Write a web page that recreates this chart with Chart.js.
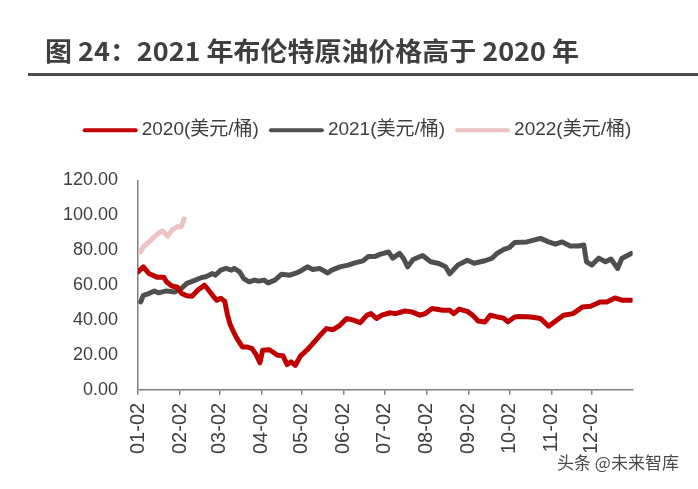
<!DOCTYPE html>
<html><head><meta charset="utf-8">
<script src="https://cdn.jsdelivr.net/npm/chart.js@4/dist/chart.umd.min.js"></script>
<style>
html,body{margin:0;padding:0;background:#fff;}
#wrap{position:relative;width:698px;height:489px;overflow:hidden;background:#fff;}
canvas{position:absolute;left:0;top:0;}
#title{position:absolute;left:45px;top:37px;font:bold 26px/26px 'Noto Sans CJK SC',sans-serif;color:#3f3f3f;white-space:nowrap;transform-origin:0 0;}
#rule{position:absolute;left:28px;top:73px;width:670px;height:3px;background:#4d4d4d;}
#mark{position:absolute;left:557px;top:452px;font:17px/20px 'Noto Sans CJK SC',sans-serif;color:#4a4a4a;white-space:nowrap;}
</style></head><body>
<div id="wrap">
<canvas id="c" width="698" height="489"></canvas>
<div id="title">图 24：2021 年布伦特原油价格高于 2020 年</div>
<div id="rule"></div>
<div id="mark">头条 @未来智库</div>
</div>
<script>
// x-axis tick labels (month markers)
const monthTicks = ["01-02","02-02","03-02","04-02","05-02","06-02","07-02","08-02","09-02","10-02","11-02","12-02"];

// 2020 series
const dates2020 = ["01-02","01-06","01-10","01-16","01-21","01-23","01-27","01-31","02-03","02-07","02-11","02-15","02-20","02-22","02-26","02-29","03-03","03-06","03-08","03-10","03-13","03-15","03-19","03-22","03-26","03-29","04-01","04-03","04-08","04-14","04-18","04-21","04-24","04-27","05-01","05-06","05-10","05-15","05-20","05-25","05-30","06-04","06-09","06-14","06-19","06-22","06-26","06-30","07-06","07-10","07-17","07-22","07-28","08-01","08-06","08-14","08-19","08-22","08-26","09-01","09-05","09-09","09-14","09-18","09-23","09-28","10-01","10-06","10-10","10-18","10-25","10-31","11-06","11-11","11-18","11-25","12-01","12-08","12-13","12-19","12-24","12-31"];
const values2020 = [67.6,70.5,66.7,64.6,64.6,62.0,59.5,58.8,55.4,53.9,53.7,57.1,60.0,58.3,54.2,51.4,52.5,50.8,43.0,37.5,32.4,29.5,24.6,24.6,23.8,20.5,15.5,22.7,23.0,19.8,19.5,14.5,16.0,14.0,19.5,23.0,26.5,31.0,35.1,34.5,37.0,40.9,40.0,38.5,42.8,43.7,40.9,42.8,44.2,43.7,45.2,44.7,42.8,43.7,46.6,45.6,45.6,43.7,46.3,45.0,42.8,39.5,38.9,42.8,41.8,41.0,39.0,41.8,42.0,41.8,40.9,36.5,39.9,42.8,43.7,47.5,47.9,50.4,50.4,52.7,51.4,51.4];

// 2021 series
const dates2021 = ["01-04","01-06","01-10","01-14","01-17","01-23","01-29","02-03","02-07","02-12","02-18","02-21","02-26","02-28","03-03","03-07","03-11","03-13","03-17","03-20","03-24","03-28","03-31","04-04","04-07","04-12","04-17","04-23","04-28","05-02","05-06","05-10","05-15","05-21","05-24","05-30","06-05","06-10","06-16","06-20","06-25","06-29","07-05","07-08","07-13","07-16","07-19","07-23","07-30","08-05","08-11","08-16","08-19","08-25","09-01","09-06","09-14","09-19","09-23","09-28","10-02","10-06","10-15","10-25","10-31","11-05","11-10","11-16","11-22","11-26","11-28","12-02","12-07","12-12","12-16","12-21","12-24","12-31"];
const values2021 = [50.4,54.2,55.2,56.7,55.6,56.7,56.1,58.1,61.0,62.5,64.4,64.8,66.7,65.7,68.6,69.6,68.6,69.6,67.6,63.8,61.9,62.9,62.3,62.9,61.3,62.9,66.3,65.7,67.0,68.6,70.5,69.0,69.6,67.0,68.6,70.5,71.5,72.8,73.9,76.4,76.5,77.8,79.0,75.5,78.2,75.3,70.5,74.7,77.0,73.4,72.4,70.5,66.5,71.5,74.3,72.6,74.0,75.3,78.2,80.5,81.5,84.5,84.8,86.8,84.8,83.5,84.8,82.4,82.5,83.0,73.4,71.5,75.5,73.4,75.0,69.6,75.3,78.2];

// 2022 series
const dates2022 = ["01-04","01-06","01-10","01-14","01-17","01-20","01-24","01-27","01-31","02-03","02-05"];
const values2022 = [79.1,82.0,84.8,87.7,89.7,91.2,88.1,91.6,93.5,93.5,98.0];

const seriesNames = ["2020(美元/桶)","2021(美元/桶)","2022(美元/桶)"];
const seriesColors = ["#C00000","#4F4F4F","#EDC3C3"];

// position helpers
const cumDays = [0,31,60,91,121,152,182,213,244,274,305,335];
function toDay(s){ const m = +s.slice(0,2), d = +s.slice(3); return cumDays[m-1] + d - 2; }
function pts(dates, vals){ return dates.map((s,i)=>({x:toDay(s), y:vals[i]})); }

// fit title to reference width
(function(){
  const t = document.getElementById('title');
  const w = t.getBoundingClientRect().width;
  if (w > 0) t.style.transform = 'scaleX(' + (534 / w) + ')';
})();

const FONT = "'Liberation Sans', 'Noto Sans CJK SC', Arial, sans-serif";
const TXT = '#404040';
const AXIS = '#7f7f7f';
const LEG = {cx: 357, y: 130.3, box: 55, gap: 4, spacing: 10, size: 19, lw: 4};

// legend drawn on the canvas (single row, as in the reference)
const rowLegend = {
  id: 'rowLegend',
  afterDraw(chart){
    const ctx = chart.ctx;
    ctx.save();
    ctx.font = LEG.size + 'px ' + FONT;
    const items = chart.data.datasets.map(d => ({label: d.label, color: d.borderColor, w: ctx.measureText(d.label).width}));
    const total = items.reduce((s, it) => s + LEG.box + LEG.gap + it.w, 0) + LEG.spacing * (items.length - 1);
    let x = LEG.cx - total / 2;
    items.forEach(it => {
      ctx.strokeStyle = it.color; ctx.lineWidth = LEG.lw; ctx.lineCap = 'round';
      ctx.beginPath(); ctx.moveTo(x + LEG.lw / 2, LEG.y); ctx.lineTo(x + LEG.box - LEG.lw / 2, LEG.y); ctx.stroke();
      ctx.fillStyle = TXT; ctx.textBaseline = 'middle'; ctx.textAlign = 'left';
      ctx.fillText(it.label, x + LEG.box + LEG.gap, LEG.y - 0.8);
      x += LEG.box + LEG.gap + it.w + LEG.spacing;
    });
    ctx.restore();
  }
};

function ds(label, data, color){
  return {label, data, borderColor: color, backgroundColor: color, borderWidth: 5,
    pointRadius: 0, pointHoverRadius: 0, tension: 0, borderCapStyle: 'round', borderJoinStyle: 'round', fill: false};
}

new Chart(document.getElementById('c'), {
  type: 'line',
  data: {
    datasets: [
      ds(seriesNames[0], pts(dates2020, values2020), seriesColors[0]),
      ds(seriesNames[1], pts(dates2021, values2021), seriesColors[1]),
      ds(seriesNames[2], pts(dates2022, values2022), seriesColors[2])
    ]
  },
  options: {
    responsive: false,
    animation: false,
    devicePixelRatio: 1,
    layout: {padding: {top: 180.5, left: 10, right: 65.4, bottom: 27}},
    plugins: {
      tooltip: {enabled: false},
      title: {display: false},
      legend: {display: false}
    },
    scales: {
      x: {
        type: 'linear', min: 0, max: 365,
        afterBuildTicks(s){ s.ticks = monthTicks.map(t => ({value: toDay(t)})); },
        ticks: {autoSkip: false, maxRotation: 90, minRotation: 90, padding: 8,
          font: {size: 20, family: FONT}, color: TXT,
          callback: (v, i) => monthTicks[i]},
        grid: {display: true, drawOnChartArea: false, drawTicks: true, tickLength: 5, color: AXIS, lineWidth: 1.5},
        border: {display: true, color: AXIS, width: 1.5}
      },
      y: {
        min: 0, max: 120,
        afterFit(s){ s.width = 128; },
        ticks: {stepSize: 20, padding: 20, font: {size: 18, family: FONT}, color: TXT,
          callback: v => Number(v).toFixed(2)},
        grid: {display: false, drawTicks: false},
        border: {display: true, color: AXIS, width: 1.5}
      }
    }
  },
  plugins: [rowLegend]
});
</script>
</body></html>
